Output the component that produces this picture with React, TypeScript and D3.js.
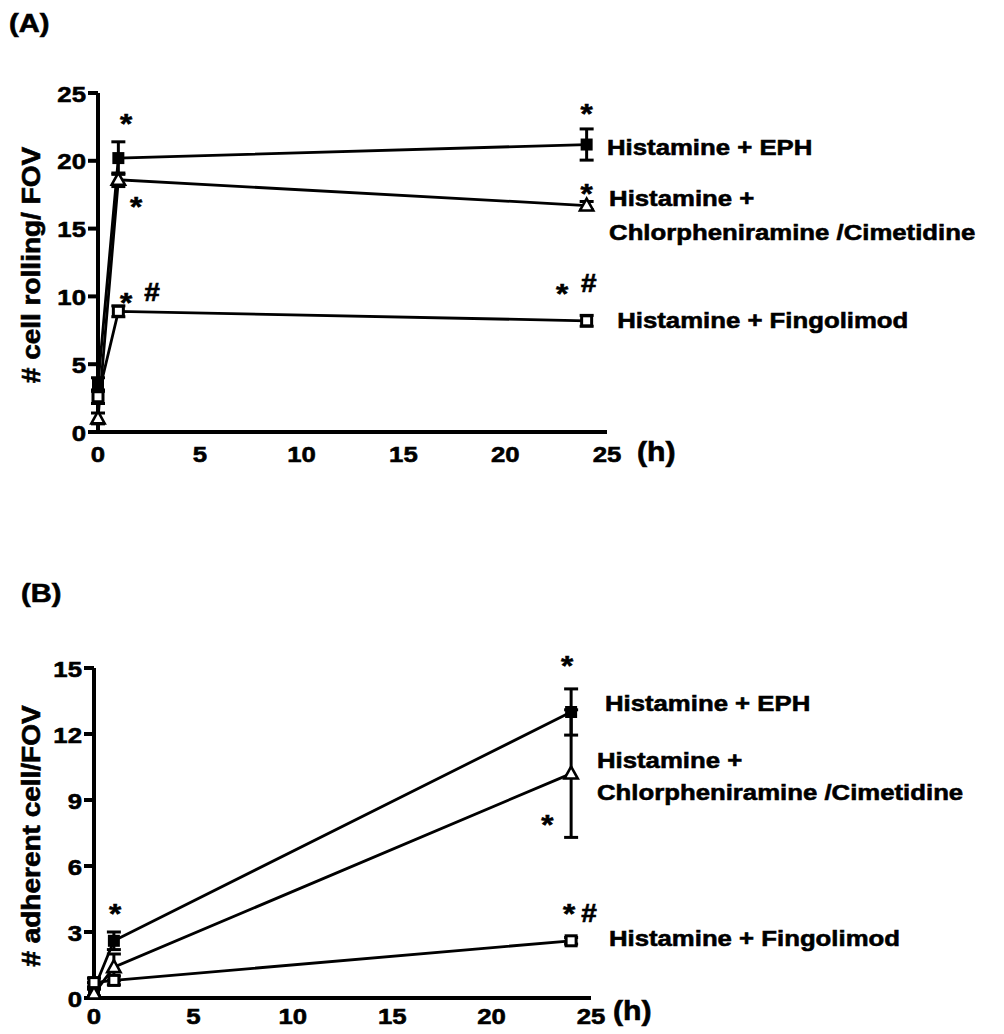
import React from "react";
import * as d3 from "d3";

// ---------- data ----------
const times = [0, 1, 24];

// Panel A: # cell rolling / FOV
const rollEph = [3.5, 20.2, 21.2];
const rollEphErr = [0.5, 1.2, 1.15];
const rollChlor = [1.0, 18.6, 16.7];
const rollChlorErr = [0.4, 0.5, 0.3];
const rollFingo = [2.6, 8.9, 8.2];
const rollFingoErr = [0.5, 0.4, 0.4];

// Panel B: # adherent cell / FOV
const adhEph = [0.4, 2.6, 13.0];
const adhEphErr = [0.3, 0.4, 1.05];
const adhChlor = [0.2, 1.4, 10.2];
const adhChlorErr = [0.2, 0.6, 2.9];
const adhFingo = [0.7, 0.8, 2.6];
const adhFingoErr = [0.2, 0.2, 0.15];

const xTicks = [0, 5, 10, 15, 20, 25];
const yTicksA = [0, 5, 10, 15, 20, 25];
const yTicksB = [0, 3, 6, 9, 12, 15];

// significance marks [t, value, glyph]
const marksA: [number, number, string][] = [
  [1.38, 23.2, "*"],
  [1.87, 17.1, "*"],
  [1.38, 10.0, "*"],
  [2.65, 10.3, "#"],
  [24.0, 24.0, "*"],
  [24.0, 18.1, "*"],
  [22.8, 10.7, "*"],
  [24.1, 11.0, "#"],
];
const marksB: [number, number, string][] = [
  [1.06, 4.14, "*"],
  [23.8, 15.4, "*"],
  [22.8, 8.2, "*"],
  [23.9, 4.14, "*"],
  [24.9, 3.86, "#"],
];

// series labels [t, value, text]
const labelsA: [number, number, string][] = [
  [25.0, 21.0, "Histamine + EPH"],
  [25.1, 17.26, "Histamine +"],
  [25.1, 14.75, "Chlorpheniramine /Cimetidine"],
  [25.5, 8.26, "Histamine + Fingolimod"],
];
const labelsB: [number, number, string][] = [
  [25.7, 13.4, "Histamine + EPH"],
  [25.3, 10.8, "Histamine +"],
  [25.3, 9.36, "Chlorpheniramine /Cimetidine"],
  [25.9, 2.73, "Histamine + Fingolimod"],
];

const FONT = "'Liberation Sans', Arial, Helvetica, sans-serif";
const SX = 1.12;

function T({ x, y, text, size, anchor = "start", rotate = false }: any) {
  return (
    <text
      transform={`translate(${x},${y})${rotate ? " rotate(-90)" : ""} scale(${SX},1)`}
      textAnchor={anchor}
      fontFamily={FONT}
      fontWeight="bold"
      fontSize={size}
      fill="#000"
      stroke="#000"
      strokeWidth={0.6}
    >
      {text}
    </text>
  );
}

type Series = { values: number[]; errs: number[]; marker: "fsq" | "osq" | "tri" };

function Panel({
  xr, yr, ymax, yTicks, series, marks, labels, title, titleCy, hLabel, tickDy,
}: any) {
  const x = d3.scaleLinear().domain([0, 25]).range(xr);
  const y = d3.scaleLinear().domain([0, ymax]).range(yr);
  const line = d3.line<number>().x((_, i) => x(times[i])).y((v) => y(v));
  const cap = 7;
  return (
    <g>
      {/* axes */}
      <line x1={x(0)} x2={x(0)} y1={y(0) + 2} y2={y(ymax)} stroke="#000" strokeWidth={4} />
      <line x1={x(0) - 10} x2={x(25)} y1={y(0)} y2={y(0)} stroke="#000" strokeWidth={4} />
      {yTicks.map((t: number) => (
        <g key={t}>
          <line x1={x(0) - 10} x2={x(0)} y1={y(t)} y2={y(t)} stroke="#000" strokeWidth={4} />
          <T x={x(0) - 12} y={y(t) + 8.5} text={String(t)} size={23} anchor="end" />
        </g>
      ))}
      {xTicks.map((t: number) => (
        <T key={t} x={x(t)} y={y(0) + tickDy} text={String(t)} size={23} anchor="middle" />
      ))}
      <T x={x(25) + 30 - (hLabel.dx || 0)} y={y(0) + hLabel.dy} text="(h)" size={27} />
      <T x={40} y={titleCy} text={title} size={25} anchor="middle" rotate />
      {/* lines */}
      {series.map((s: Series, i: number) => (
        <path key={i} d={line(s.values) || ""} fill="none" stroke="#000" strokeWidth={2.8} />
      ))}
      {/* error bars */}
      {series.map((s: Series, i: number) =>
        s.values.map((v, j) => {
          const cx = x(times[j]);
          const y1 = y(v + s.errs[j]);
          const y2 = y(v - s.errs[j]);
          return (
            <g key={`${i}-${j}`} stroke="#000" strokeWidth={3}>
              <line x1={cx} x2={cx} y1={y1} y2={y2} />
              <line x1={cx - cap} x2={cx + cap} y1={y1} y2={y1} />
              <line x1={cx - cap} x2={cx + cap} y1={y2} y2={y2} />
            </g>
          );
        })
      )}
      {/* markers */}
      {series.map((s: Series, i: number) =>
        s.values.map((v, j) => {
          const cx = x(times[j]);
          const cy = y(v);
          if (s.marker === "fsq")
            return <rect key={`${i}-${j}`} x={cx - 6} y={cy - 6} width={12} height={12} fill="#000" />;
          if (s.marker === "osq")
            return (
              <rect key={`${i}-${j}`} x={cx - 5} y={cy - 5} width={10} height={10} fill="#fff" stroke="#000" strokeWidth={3} />
            );
          const r = 7;
          return (
            <path
              key={`${i}-${j}`}
              d={`M${cx},${cy - r} L${cx + r * 0.95},${cy + r * 0.7} L${cx - r * 0.95},${cy + r * 0.7} Z`}
              fill="#fff"
              stroke="#000"
              strokeWidth={2.6}
              strokeLinejoin="miter"
            />
          );
        })
      )}
      {marks.map(([t, v, g]: [number, number, string], i: number) => (
        <T
          key={i}
          x={x(t)}
          y={y(v) + (g === "*" ? 16 : 9)}
          text={g}
          size={g === "*" ? 28 : 25}
          anchor="middle"
        />
      ))}
      {labels.map(([t, v, s]: [number, number, string], i: number) => (
        <T key={i} x={x(t)} y={y(v) + 8} text={s} size={23} />
      ))}
    </g>
  );
}

export default function App() {
  const seriesA: Series[] = [
    { values: rollEph, errs: rollEphErr, marker: "fsq" },
    { values: rollChlor, errs: rollChlorErr, marker: "tri" },
    { values: rollFingo, errs: rollFingoErr, marker: "osq" },
  ];
  const seriesB: Series[] = [
    { values: adhEph, errs: adhEphErr, marker: "fsq" },
    { values: adhChlor, errs: adhChlorErr, marker: "tri" },
    { values: adhFingo, errs: adhFingoErr, marker: "osq" },
  ];
  return (
    <svg width={1004} height={1034} style={{ position: "absolute", left: 0, top: 0, background: "#fff" }}>
      <rect width={1004} height={1034} fill="#fff" />
      <T x={9} y={32} text="(A)" size={26} />
      <T x={21} y={602} text="(B)" size={26} />
      <Panel
        xr={[98, 607]}
        yr={[432, 93]}
        ymax={25}
        yTicks={yTicksA}
        series={seriesA}
        marks={marksA}
        labels={labelsA}
        title="# cell rolling/ FOV"
        titleCy={265}
        hLabel={{ dx: 0, dy: 29 }}
        tickDy={30}
      />
      <Panel
        xr={[94, 591]}
        yr={[998, 668]}
        ymax={15}
        yTicks={yTicksB}
        series={seriesB}
        marks={marksB}
        labels={labelsB}
        title="# adherent cell/FOV"
        titleCy={836}
        hLabel={{ dx: 8, dy: 22 }}
        tickDy={26}
      />
    </svg>
  );
}
